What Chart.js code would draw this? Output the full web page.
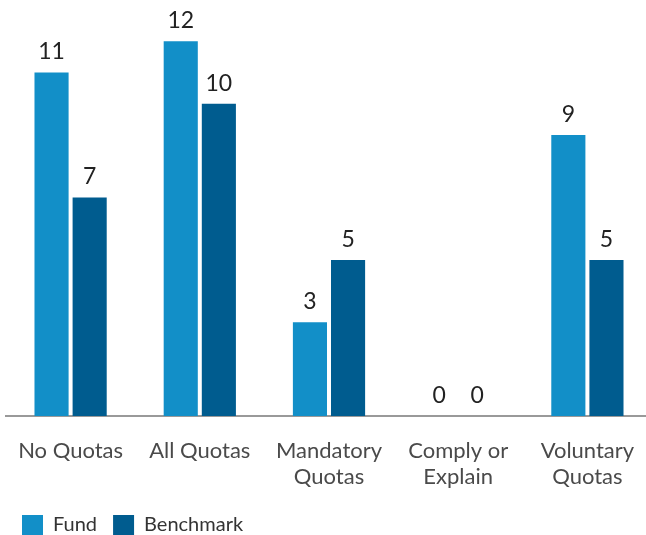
<!DOCTYPE html>
<html>
<head>
    <title>Quotas</title>
    <script src="https://cdn.jsdelivr.net/npm/chart.js"></script>
    <style>
        html, body { margin: 0; padding: 0; overflow: hidden; background: #fff; }
        #chartContainer { width: 652px; height: 545px; }
    </style>
</head>
<body>
    <div id="chartContainer">
        <canvas id="myChart"></canvas>
    </div>
    <script>
        const categories = [['No Quotas'], ['All Quotas'], ['Mandatory', 'Quotas'], ['Comply or', 'Explain'], ['Voluntary', 'Quotas']];
        const fundValues = [11, 12, 3, 0, 9];
        const benchmarkValues = [7, 10, 5, 0, 5];

        // etiquetas de valor encima de cada barra
        const valueLabels = {
            id: 'valueLabels',
            afterDatasetsDraw(chart) {
                const ctx = chart.ctx;
                ctx.save();
                ctx.font = '23px Lato';
                ctx.fillStyle = '#222';
                ctx.textAlign = 'center';
                ctx.textBaseline = 'bottom';
                chart.data.datasets.forEach((ds, i) => {
                    chart.getDatasetMeta(i).data.forEach((bar, j) => {
                        ctx.fillText(ds.data[j], bar.x, bar.y - 9);
                    });
                });
                ctx.restore();
            }
        };

        new Chart(document.getElementById('myChart'), {
            type: 'bar',
            data: {
                labels: categories,
                datasets: [
                    { label: 'Fund', data: fundValues, backgroundColor: 'rgb(18, 143, 200)' },
                    { label: 'Benchmark', data: benchmarkValues, backgroundColor: 'rgb(0, 92, 143)' }
                ]
            },
            options: {
                responsive: true,
                maintainAspectRatio: false,
                animation: false,
                categoryPercentage: 0.59,
                barPercentage: 0.895,
                layout: { padding: { top: 10, left: 6, right: 0, bottom: 0 } },
                plugins: {
                    legend: {
                        position: 'bottom',
                        align: 'start',
                        labels: {
                            boxWidth: 21,
                            boxHeight: 20,
                            color: '#333',
                            font: { family: 'Lato', size: 20 },
                            padding: 16
                        }
                    },
                    tooltip: { enabled: false }
                },
                scales: {
                    x: {
                        grid: { display: false },
                        border: { display: true, color: '#999', width: 2 },
                        ticks: {
                            color: '#4a4a4a',
                            font: { family: 'Lato', size: 22, lineHeight: 1.18 },
                            padding: 14,
                            maxRotation: 0
                        },
                        afterFit: (scale) => { scale.height -= 5; }
                    },
                    y: {
                        display: false,
                        min: 0,
                        max: 13
                    }
                }
            },
            plugins: [valueLabels]
        });
    </script>
</body>
</html>
